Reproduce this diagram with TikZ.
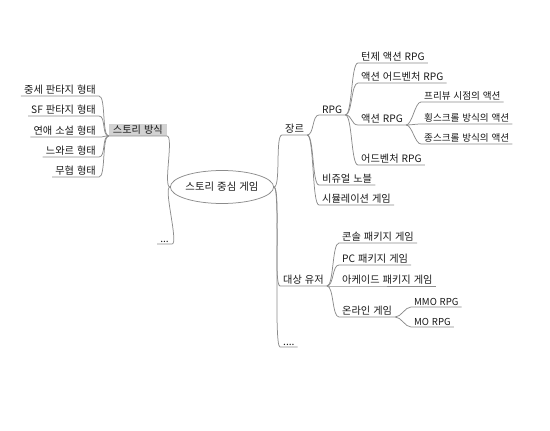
\documentclass[tikz,border=0pt]{standalone}
\usepackage{fontspec}
\setmainfont{Noto Sans CJK KR}[WordSpace=1.3]
\usetikzlibrary{shapes.geometric}
\begin{document}
\begin{tikzpicture}[x=1pt,y=-1pt,
    branch/.style={draw=gray!90,line width=0.75pt},
    twig/.style={inner xsep=3pt,inner ysep=1.5pt,text=black!90,font=\fontsize{10.2}{12}\selectfont},
    leaf/.style={twig,font=\fontsize{9.6}{11}\selectfont}]
    \useasboundingbox (0,0) rectangle (550,431);
    \node[ellipse,branch,minimum width=83pt,minimum height=33pt,inner sep=0pt,text=black!90,font=\fontsize{10.4}{12}\selectfont] (root) at (222,187) {스토리 중심 게임};
%   left side
    \node[twig,anchor=south east,fill=gray!35,inner xsep=4pt] (story) at (167,136) {스토리 방식};
    \foreach \n/\y/\t in {s1/96/중세 판타지 형태,s2/116/SF 판타지 형태,s3/137/연애 소설 형태,s4/157/느와르 형태,s5/177/무협 형태}{
    \node[twig,anchor=south east] (\n) at (99,\y) {\t};
    \draw[branch] (story.south west) .. controls +(-7,0) and +(7,0) .. (\n.south east) -- (\n.south west);
    }
    \node[twig,anchor=south east] (dots1) at (172,244) {...};
    \draw[branch] (root.west) .. controls +(-7,0) and +(7,0) .. (story.south east) -- (story.south west);
    \draw[branch] (root.west) .. controls +(-7,0) and +(7,0) .. (dots1.south east) -- (dots1.south west);
%   right side
    \node[twig,anchor=south west] (genre) at (282,135) {장르};
    \node[twig,anchor=south west] (target) at (280,286) {대상 유저};
    \node[twig,anchor=south west] (dots2) at (280,347) {....};
    \foreach \n in {genre,target,dots2}
    \draw[branch] (root.east) .. controls +(7,0) and +(-7,0) .. (\n.south west) -- (\n.south east);
    \node[twig,anchor=south west] (rpg) at (319,115) {RPG};
    \node[twig,anchor=south west] (novel) at (319,185) {비쥬얼 노블};
    \node[twig,anchor=south west] (sim) at (319,205) {시뮬레이션 게임};
    \foreach \n in {rpg,novel,sim}
    \draw[branch] (genre.south east) .. controls +(7,0) and +(-7,0) .. (\n.south west) -- (\n.south east);
    \foreach \n/\y/\t in {r1/63/턴제 액션 RPG,r2/83/액션 어드벤처 RPG,r3/125/액션 RPG,r4/165/어드벤처 RPG}{
    \node[twig,anchor=south west] (\n) at (358,\y) {\t};
    \draw[branch] (rpg.south east) .. controls +(7,0) and +(-7,0) .. (\n.south west) -- (\n.south east);
    }
    \foreach \n/\y/\t in {a1/102/프리뷰 시점의 액션,a2/124/횡스크롤 방식의 액션,a3/144/종스크롤 방식의 액션}{
    \node[leaf,anchor=south west] (\n) at (421,\y) {\t};
    \draw[branch] (r3.south east) .. controls +(6,0) and +(-6,0) .. (\n.south west) -- (\n.south east);
    }
    \foreach \n/\y/\t in {u1/243/콘솔 패키지 게임,u2/265/PC 패키지 게임,u3/286/아케이드 패키지 게임,u4/317/온라인 게임}{
    \node[twig,anchor=south west] (\n) at (339,\y) {\t};
    \draw[branch] (target.south east) .. controls +(7,0) and +(-7,0) .. (\n.south west) -- (\n.south east);
    }
    \foreach \n/\y/\t in {m1/307/MMO RPG,m2/327/MO RPG}{
    \node[leaf,anchor=south west] (\n) at (411,\y) {\t};
    \draw[branch] (u4.south east) .. controls +(6,0) and +(-6,0) .. (\n.south west) -- (\n.south east);
    }
\end{tikzpicture}
\end{document}
